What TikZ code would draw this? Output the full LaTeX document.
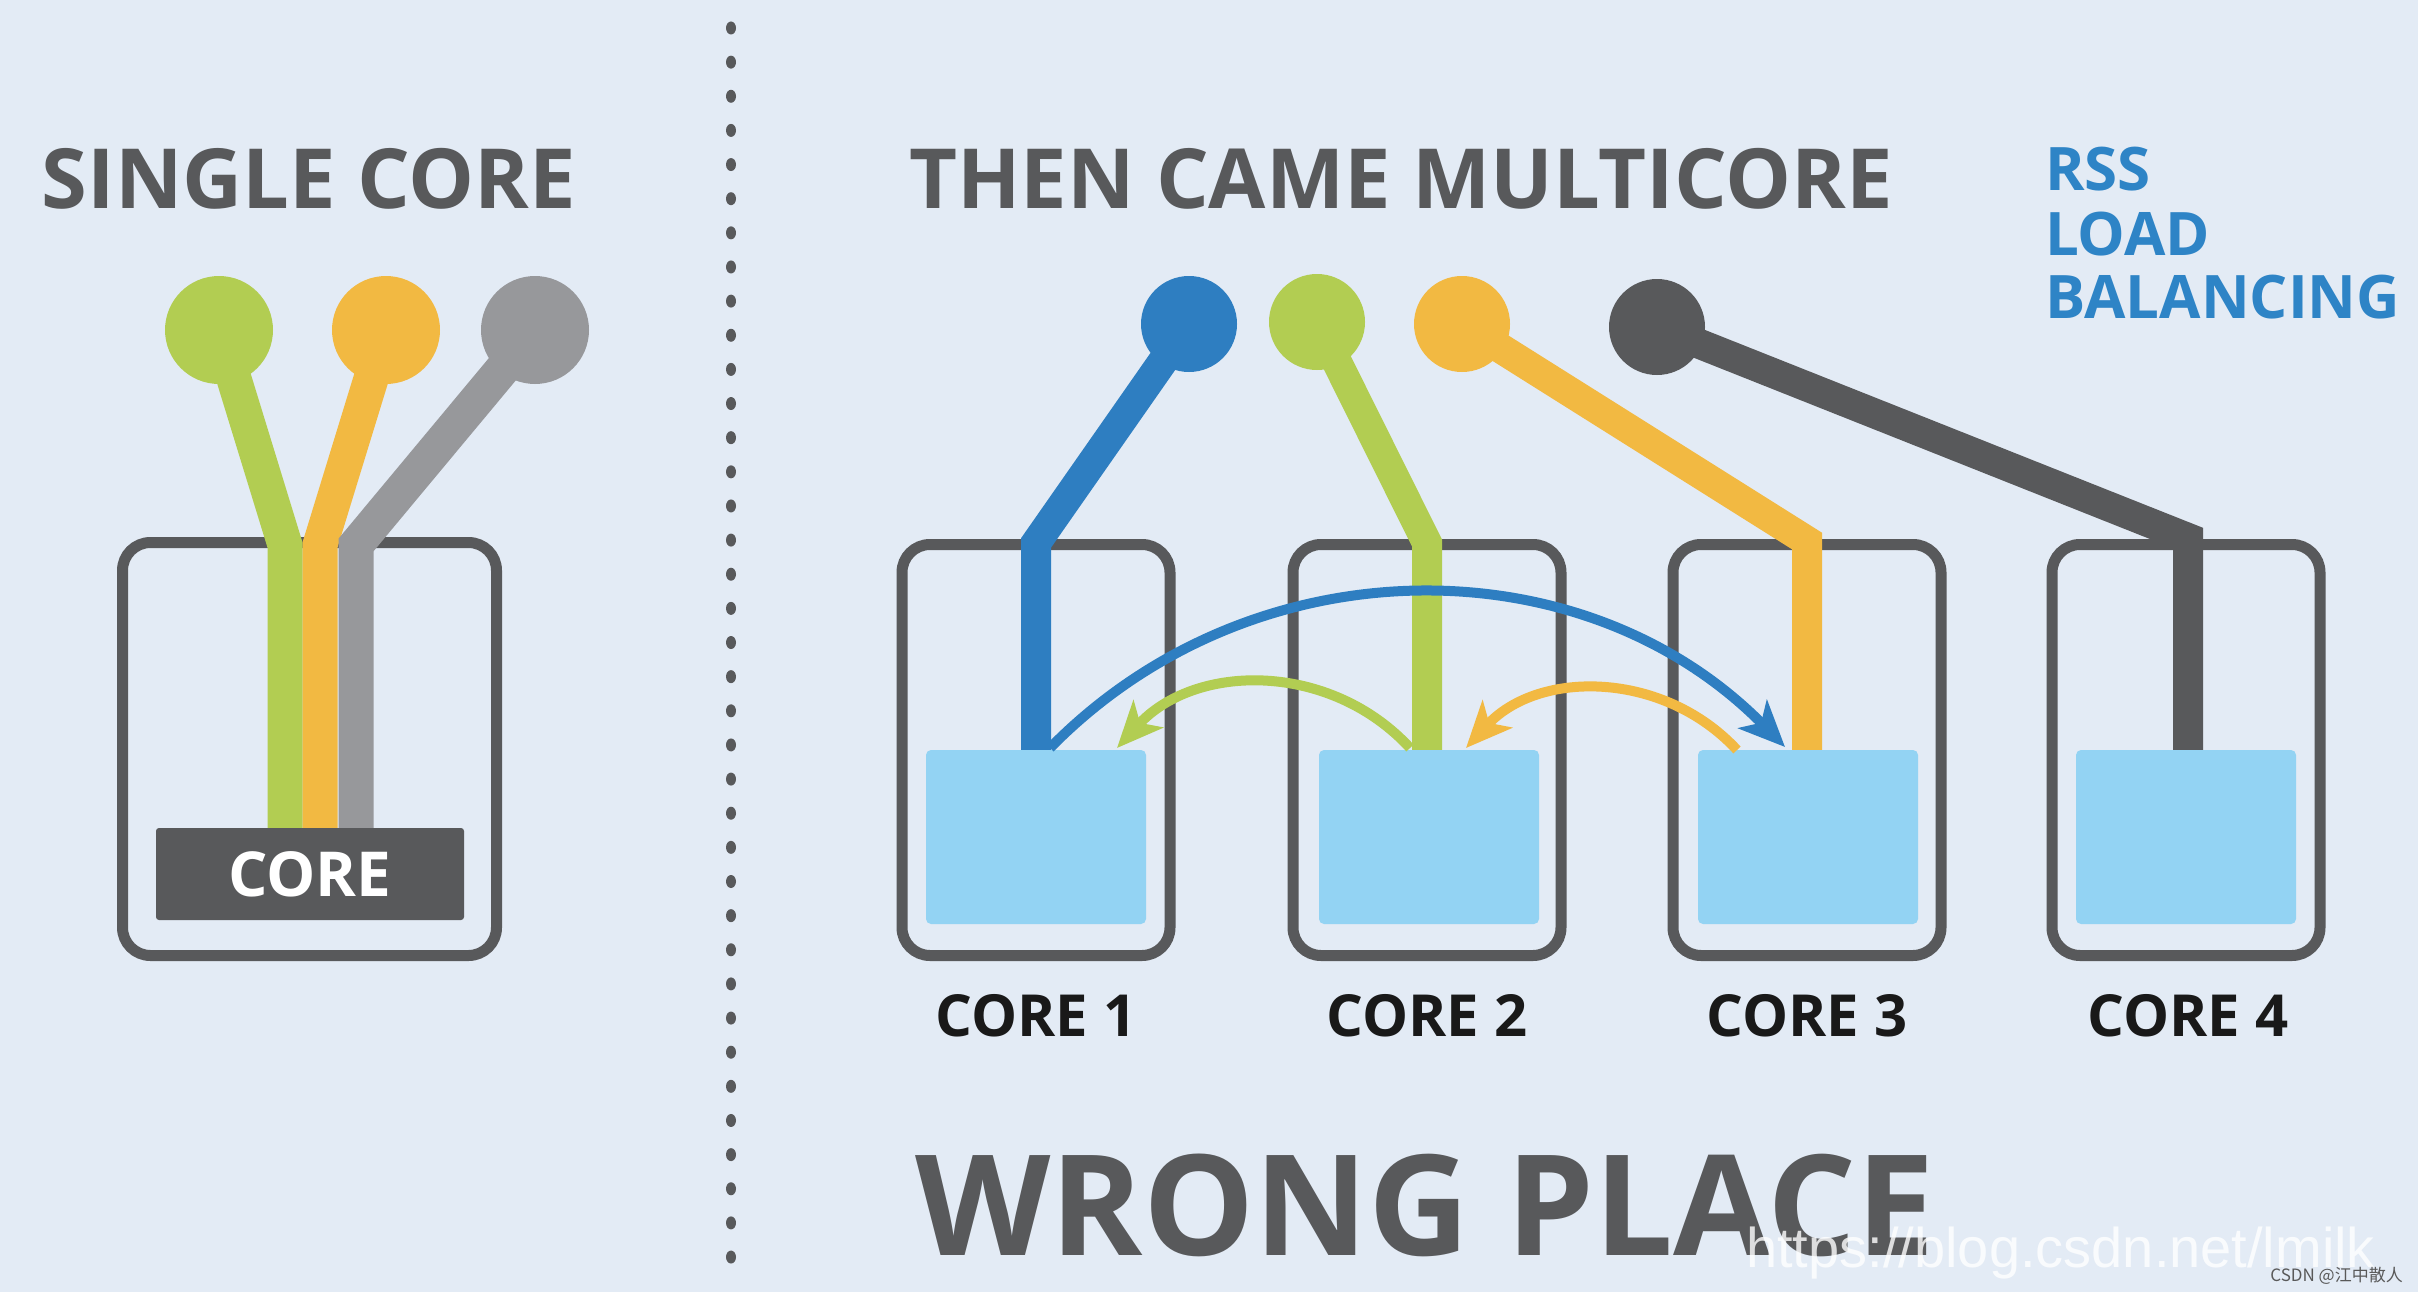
\documentclass[tikz,border=0pt]{standalone}
\usepackage{fontspec}
\setmainfont{Open Sans}
\newfontfamily\wmfont{Liberation Sans}
\newfontfamily\cjkfont{Noto Sans CJK SC}
\usetikzlibrary{arrows.meta}
\definecolor{bg}{HTML}{E3EBF5}
\definecolor{cgreen}{HTML}{B2CD52}
\definecolor{corange}{HTML}{F2B942}
\definecolor{cgray}{HTML}{97989B}
\definecolor{cdark}{HTML}{58595B}
\definecolor{cblue}{HTML}{2E7EC1}
\definecolor{cqueue}{HTML}{93D3F3}
\definecolor{ctxt}{HTML}{58595B}
\definecolor{crss}{HTML}{2E84C6}
\tikzset{
  ball/.style={circle, fill=#1, minimum size=96pt, inner sep=0pt, outer sep=0pt},
  bigball/.style={circle, fill=#1, minimum size=108pt, inner sep=0pt, outer sep=0pt},
  wire/.style={draw=#1, line width=30pt},
  fatwire/.style={draw=#1, line width=35pt},
  corebox/.style={draw=cdark, line width=11pt, rounded corners=28pt, inner sep=0pt, outer sep=0pt, minimum width=268pt, minimum height=411pt},
  queue/.style={fill=cqueue, rounded corners=5pt, inner sep=0pt, outer sep=0pt, minimum width=220pt, minimum height=174pt},
  flow/.style={draw=#1, line width=10pt, -{Stealth[length=46pt, width=40pt, inset=12pt]}},
  title/.style={font=\fontsize{83}{83}\selectfont\bfseries, text=ctxt, inner sep=0pt},
  rss/.style={font=\fontsize{60}{60}\selectfont\bfseries, text=crss, inner sep=0pt, anchor=base west},
  corelbl/.style={font=\fontsize{58}{58}\selectfont\bfseries, text=black!90, inner sep=0pt, anchor=base},
}
\begin{document}
\begin{tikzpicture}[x=1pt,y=-1pt]
\fill[bg] (0,0) rectangle (2418,1292);
\useasboundingbox (0,0) rectangle (2418,1292);

% dotted divider
\foreach \i in {0,...,36} \fill[cdark] (731,{28+\i*34.14}) ellipse [x radius=5, y radius=6.5];

% titles
\node[title, anchor=base] (t1) at (309,209) {SINGLE CORE};
\node[title, anchor=base] (t2) at (1401,209) {THEN CAME MULTICORE};
\node[rss] (r1) at (2045,191) {RSS};
\node[rss] (r2) at (2045,255) {LOAD};
\node[rss] (r3) at (2045,318) {BALANCING};

% single core
\node[corebox, minimum width=374pt, minimum height=413pt] (sbox) at (309.5,749) {};
\node[bigball=cgreen] (sg) at (219,330) {};
\node[bigball=corange] (so) at (386,330) {};
\node[bigball=cgray] (sy) at (535,330) {};
\draw[fatwire=cgreen] (sg.center) -- (285,545) -- (285,840);
\draw[fatwire=corange] (so.center) -- (320,545) -- (320,840);
\draw[fatwire=cgray] (sy.center) -- (356,545) -- (356,840);
\node[fill=cdark, rounded corners=3pt, minimum width=308pt, minimum height=92pt, inner sep=0pt,
      text=white, font=\fontsize{62}{62}\selectfont\bfseries] (score) at (310,874) {CORE};

% multicore boxes
\node[corebox] (b1) at (1036,750) {};
\node[corebox] (b2) at (1427,750) {};
\node[corebox] (b3) at (1807,750) {};
\node[corebox] (b4) at (2186,750) {};

% balls and wires
\node[ball=cblue] (kb) at (1189,324) {};
\node[ball=cgreen] (kg) at (1317,322) {};
\node[ball=corange] (ko) at (1462,324) {};
\node[ball=cdark] (kd) at (1657,327) {};
\draw[wire=cblue] (kb.center) -- (1036,543) -- (1036,760);
\draw[wire=cgreen] (kg.center) -- (1427,543) -- (1427,760);
\draw[wire=corange] (ko.center) -- (1807,541) -- (1807,760);
\draw[wire=cdark] (kd.center) -- (2188,538) -- (2188,760);

% queues
\node[queue] (q1) at (1036,837) {};
\node[queue] (q2) at (1429,837) {};
\node[queue] (q3) at (1808,837) {};
\node[queue] (q4) at (2186,837) {};

% arrows
\coordinate (bs) at (1050,748);
\coordinate (be) at (1785,747);
\coordinate (gs) at (1410,748);
\coordinate (ge) at (1117,748);
\coordinate (os) at (1737,750);
\coordinate (oe) at (1466,748);
\draw[flow=cblue] (bs) .. controls (1252,542) and (1583,542) .. (be);
\draw[flow=cgreen] (gs) .. controls (1331,662) and (1196,662) .. (ge);
\draw[flow=corange] (os) .. controls (1664,671) and (1539,669) .. (oe);

% labels
\node[corelbl] (l1) at (1036,1036) {CORE 1};
\node[corelbl] (l2) at (1427,1036) {CORE 2};
\node[corelbl] (l3) at (1807,1036) {CORE 3};
\node[corelbl] (l4) at (2188,1036) {CORE 4};

\node[font=\fontsize{140}{140}\selectfont\bfseries, text=ctxt, inner sep=0pt, anchor=base] (wp) at (1425,1255) {WRONG PLACE};

% watermark
\node[font=\wmfont\fontsize{56}{56}\selectfont, text=white, opacity=0.8, inner sep=0pt, anchor=base west] (wm) at (1746,1267) {https://blog.csdn.net/lmilk};
\node[font=\cjkfont\fontsize{17}{17}\selectfont, text=black!65, inner sep=0pt, anchor=base east] (wm2) at (2403,1281) {CSDN @江中散人};
\end{tikzpicture}
\end{document}
